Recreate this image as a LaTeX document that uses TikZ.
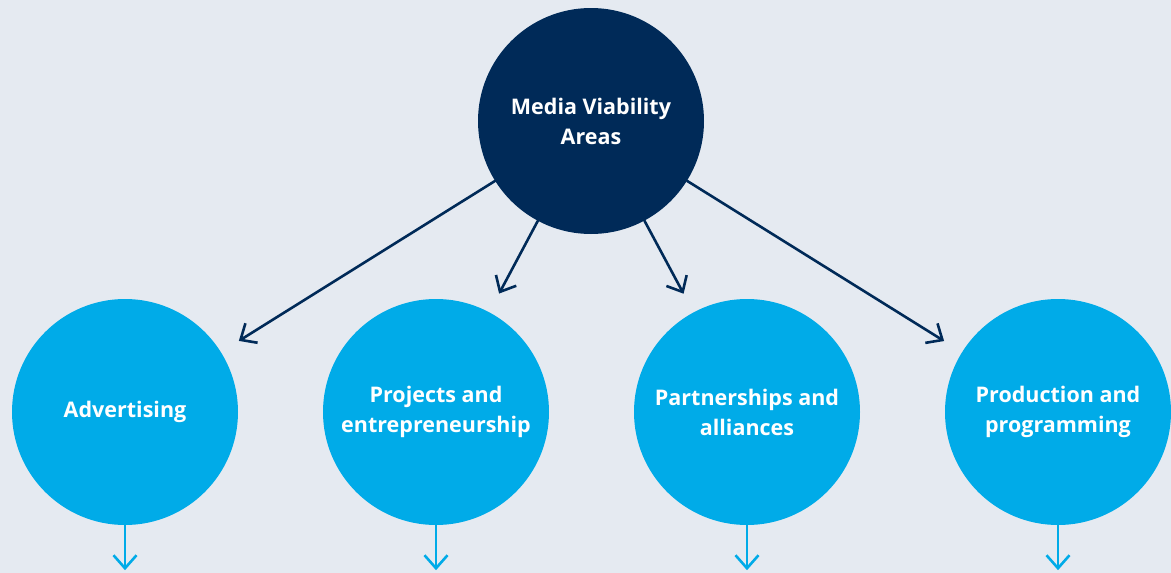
\documentclass[tikz,border=0pt]{standalone}
\usepackage{fontspec}
\setmainfont{Open Sans}
\usetikzlibrary{calc, arrows.meta}
\definecolor{navy}{HTML}{002A58}
\definecolor{skyblue}{HTML}{00ABE8}
\definecolor{paper}{HTML}{E5EAF1}
\def\radius{113pt}

\begin{document}
\begin{tikzpicture}[x=1pt, y=-1pt, line cap=round, line join=round,
	area/.style={circle, minimum size=2*\radius, inner sep=0pt, text=white, align=center,
		font=\fontsize{21.5}{30}\selectfont\bfseries},
	link/.style={draw=navy, line width=2.6pt, -{Straight Barb[length=13pt, width=23pt, line width=2.6pt]}, shorten >=21pt},
	down/.style={draw=skyblue, line width=2.6pt, -{Straight Barb[length=13pt, width=23pt, line width=2.6pt]}}]
		
		%Background
		\fill[paper] (0,0) rectangle (1171,573);
		\useasboundingbox (0,0) rectangle (1171,573);
		
		%Nodes
		\node[area, fill=navy] (hub) at (591,121) {Media Viability\\Areas};
		\node[area, fill=skyblue] (ads) at (125,412) {Advertising};
		\node[area, fill=skyblue] (projects) at (436,412) {Projects and\\entrepreneurship};
		\node[area, fill=skyblue] (partners) at (747,412) {Partnerships and\\alliances};
		\node[area, fill=skyblue] (production) at (1058,412) {Production and\\programming};
		
		%Lines
		\foreach \n in {ads, projects, partners, production}
		{
			\draw[link] (hub) -- (\n);
			\coordinate (\n-end) at ($(\n.south)+(0,45)$);
			\draw[down] (\n.south) -- (\n-end);
		}
		
	\end{tikzpicture}
\end{document}
